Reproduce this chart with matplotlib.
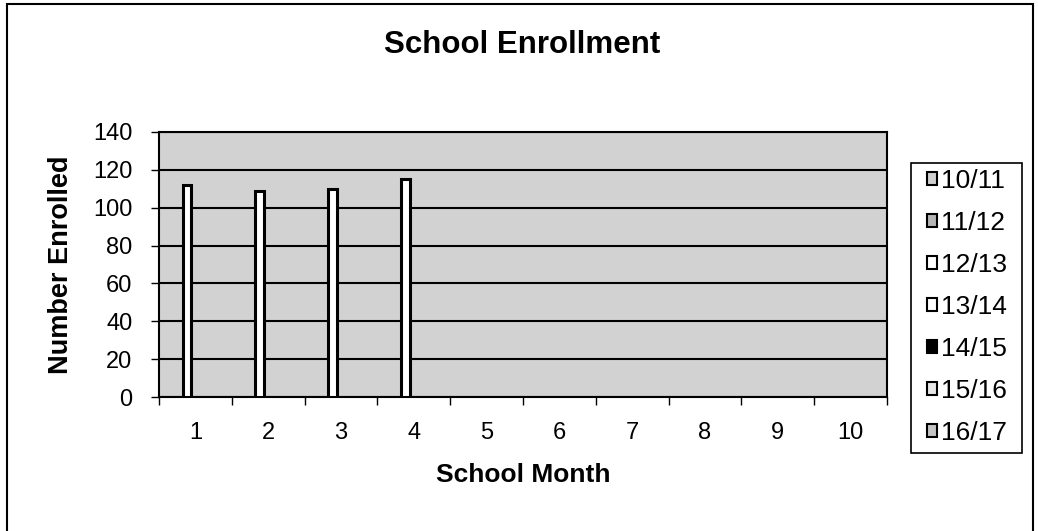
import matplotlib
matplotlib.use("Agg")
import matplotlib.pyplot as plt
import matplotlib.patches as mpatches
import numpy as np

plt.rcParams['font.family'] = ['Liberation Sans', 'DejaVu Sans']

months = [1, 2, 3, 4, 5, 6, 7, 8, 9, 10]
series_names = ["10/11", "11/12", "12/13", "13/14", "14/15", "15/16", "16/17"]
series_colors = ["#cfcfcf", "#b5b5b5", "#ffffff", "#ffffff", "#000000", "#e6e6e6", "#c4c4c4"]
nan = np.nan
values_1011 = [nan] * 10
values_1112 = [nan] * 10
values_1213 = [112, 109, 110, 115, nan, nan, nan, nan, nan, nan]
values_1314 = [nan] * 10
values_1415 = [nan] * 10
values_1516 = [nan] * 10
values_1617 = [nan] * 10
all_values = [values_1011, values_1112, values_1213, values_1314,
              values_1415, values_1516, values_1617]
y_ticks = [0, 20, 40, 60, 80, 100, 120, 140]

fig = plt.figure(figsize=(10.38, 5.31), dpi=100)
ax = fig.add_axes([159/1038, 1-397/531, 728/1038, 265/531])
ax.set_facecolor("#d2d2d2")

n = len(series_names)
w = 1.0 / (n + 1.5)
x = np.array(months, dtype=float)
handles = []
for i, (name, col, vals) in enumerate(zip(series_names, series_colors, all_values)):
    off = (i - (n - 1) / 2) * w
    ax.bar(x + off, vals, width=w, color=col, edgecolor="black", linewidth=2.2, zorder=3)
    handles.append(mpatches.Patch(facecolor=col, edgecolor="black", linewidth=1.5, label=name))

ax.set_xlim(0.5, 10.5)
ax.set_ylim(0, 140)
ax.set_yticks(y_ticks)
ax.set_yticklabels([str(v) for v in y_ticks], fontsize=17)
for v in y_ticks:
    ax.axhline(v, color="black", linewidth=1.5, zorder=2)

ax.set_xticks(np.arange(0.5, 11, 1.0))
ax.set_xticklabels([])
ax.set_xticks(x, minor=True)
ax.set_xticklabels([str(m) for m in months], minor=True, fontsize=17)
ax.tick_params(axis="x", which="major", direction="out", length=6, width=1)
ax.tick_params(axis="x", which="minor", length=0, pad=18)
ax.tick_params(axis="y", direction="out", length=6, width=1, pad=13)
for s in ["left", "bottom", "right", "top"]:
    ax.spines[s].set_color("black")
    ax.spines[s].set_linewidth(1.5)

ax.set_xlabel("School Month", fontsize=19, fontweight="bold", labelpad=14)
ax.set_ylabel("Number Enrolled", fontsize=19.5, fontweight="bold", labelpad=14)
fig.text(522/1038, 1-45/531, "School Enrollment", fontsize=22.5, fontweight="bold",
         ha="center", va="center")

leg = fig.legend(handles=handles, loc="center", bbox_to_anchor=(967/1038, 1-307/531),
                 fontsize=19, frameon=False,
                 handlelength=0.38, handleheight=0.38, handletextpad=0.18,
                 labelspacing=0.68, borderpad=0.3)

fig.patches.append(mpatches.Rectangle((911/1038, 1-453/531), 111/1038, 290/531,
                                      transform=fig.transFigure, fill=False,
                                      edgecolor="black", linewidth=1.2))
fig.patches.append(mpatches.Rectangle((7/1038, -0.05), 1026/1038, 1.05 - 4/531,
                                      transform=fig.transFigure, fill=False,
                                      edgecolor="black", linewidth=1.5))

fig.savefig("out.png", dpi=100, facecolor="white")
